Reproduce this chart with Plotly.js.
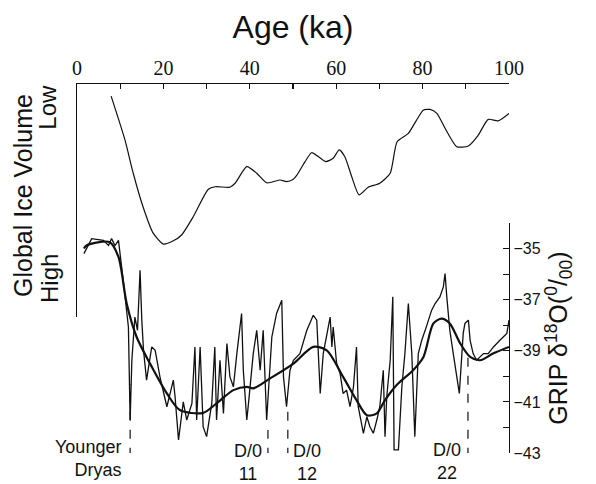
<!DOCTYPE html>
<html>
<head>
<meta charset="utf-8">
<script src="https://cdn.plot.ly/plotly-3.0.1.min.js"></script>
<style>html,body{margin:0;padding:0;background:#fff;}#chart{width:596px;height:484px;}</style>
</head>
<body>
<div id="chart"></div>
<script>
// Global ice volume (relative index: 100 = low ice, 0 = high ice)
const iceAge = [7.9, 11.1, 13.0, 15.3, 17.6, 20.0, 22.3, 24.2, 26.9, 30.4, 32.0, 35.4, 36.6, 39.3, 41.6, 43.9, 47.0, 48.5, 50.0, 50.9, 52.8, 54.3, 55.9, 57.6, 59.3, 60.7, 62.0, 63.6, 65.3, 67.4, 70.1, 72.5, 74.1, 76.7, 78.6, 80.2, 81.7, 83.3, 85.2, 87.9, 90.6, 92.9, 95.2, 97.5, 100.0];
const iceVol = [94.8, 76.0, 61.8, 47.2, 36.1, 31.3, 32.7, 35.2, 43.0, 54.8, 55.9, 55.7, 57.4, 64.5, 61.7, 57.6, 58.8, 58.1, 59.0, 60.9, 66.7, 70.5, 68.8, 66.7, 68.1, 71.7, 68.8, 60.2, 52.4, 55.7, 57.4, 61.7, 75.2, 78.8, 84.5, 88.8, 89.1, 87.4, 81.0, 73.1, 73.4, 78.1, 84.8, 84.2, 87.4];

// GRIP d18O raw record (per mil)
const gripAge = [1.6, 3.4, 6.1, 7.3, 8.0, 8.8, 9.6, 10.0, 10.7, 11.9, 12.3, 12.7, 13.4, 14.0, 14.6, 15.0, 15.4, 16.1, 17.3, 18.1, 19.2, 20.8, 22.3, 22.7, 23.5, 24.6, 25.4, 26.6, 27.3, 27.7, 28.5, 29.2, 30.0, 31.2, 31.9, 32.3, 33.1, 33.9, 34.7, 35.4, 36.2, 37.0, 38.1, 38.5, 39.3, 39.7, 40.8, 41.6, 42.4, 43.1, 43.9, 45.1, 46.2, 47.4, 47.8, 48.5, 49.3, 50.1, 51.6, 53.2, 54.7, 55.5, 55.9, 56.3, 57.0, 57.8, 58.6, 59.0, 59.3, 60.1, 60.9, 61.6, 62.4, 63.2, 64.0, 64.7, 65.1, 66.3, 67.1, 67.8, 68.6, 69.4, 70.1, 70.9, 71.3, 71.7, 72.5, 73.1, 73.4, 74.4, 75.2, 75.9, 76.7, 77.5, 78.2, 79.0, 79.8, 80.6, 81.3, 82.1, 82.9, 84.0, 84.8, 85.2, 85.6, 86.3, 87.1, 87.9, 88.5, 89.1, 89.4, 89.8, 90.6, 91.0, 91.7, 92.5, 93.3, 94.1, 95.2, 96.4, 97.9, 99.5, 100.0];
const gripD18O = [-35.20, -34.61, -34.68, -34.88, -34.61, -34.88, -34.68, -35.20, -36.24, -38.07, -41.71, -39.37, -37.68, -38.20, -35.85, -37.80, -38.98, -40.15, -38.85, -38.98, -40.02, -41.19, -40.15, -40.80, -42.49, -41.00, -41.71, -41.06, -38.85, -41.71, -38.85, -41.97, -42.36, -41.06, -38.85, -41.71, -39.37, -41.45, -38.72, -40.02, -40.41, -39.11, -37.54, -39.76, -41.71, -41.06, -39.11, -38.20, -39.76, -38.20, -41.71, -38.46, -37.54, -37.02, -40.02, -41.19, -39.76, -39.37, -39.11, -38.20, -37.61, -37.80, -39.11, -40.67, -39.11, -38.46, -37.68, -38.85, -38.07, -39.50, -39.89, -40.67, -40.54, -41.19, -40.41, -38.85, -41.19, -42.23, -41.58, -41.97, -42.23, -41.71, -41.19, -39.76, -42.36, -40.80, -39.37, -36.89, -42.88, -42.88, -40.41, -39.11, -37.15, -39.11, -42.36, -39.11, -38.59, -38.20, -37.80, -37.41, -37.15, -36.89, -36.50, -35.98, -36.89, -38.20, -39.11, -40.02, -40.67, -39.11, -38.32, -37.93, -37.80, -38.59, -39.11, -39.37, -39.24, -39.11, -39.11, -38.85, -38.59, -38.32, -37.80];

// GRIP smoothed curve
const smoothAge = [1.6, 2.2, 7.6, 9.6, 11.5, 13.8, 16.9, 20.8, 23.8, 29.2, 32.3, 36.2, 39.3, 40.8, 44.7, 50.1, 54.7, 57.8, 61.6, 64.7, 67.1, 69.4, 71.3, 74.0, 77.8, 80.2, 82.5, 84.4, 86.3, 88.7, 91.0, 93.3, 96.4, 100.0];
const smoothD18O = [-35.0, -34.88, -34.75, -35.33, -37.15, -38.46, -39.50, -40.67, -41.32, -41.43, -41.06, -40.54, -40.41, -40.47, -40.08, -39.50, -38.85, -38.98, -40.02, -40.93, -41.52, -41.45, -40.93, -40.34, -39.76, -39.24, -37.93, -37.74, -37.93, -38.71, -39.24, -39.37, -39.10, -38.85];

// Event markers (age, top of dashed line in per mil)
const eventNames = ["Younger<br>Dryas", "D/0<br>11", "D/0<br>12", "D/0<br>22"];
const eventAge = [12.3, 44.2, 48.8, 90.5];
const eventTop = [-40.3, -42.1, -41.2, -39.1];

const xTicks = [0, 20, 40, 60, 80, 100];

const sans = "Liberation Sans, Arial, sans-serif";
const traces = [
  {x: iceAge, y: iceVol, xaxis: 'x', yaxis: 'y', mode: 'lines', line: {color: '#111', width: 1.2, shape: 'spline', smoothing: 0.6}, cliponaxis: false, hoverinfo: 'skip'},
  {x: gripAge, y: gripD18O, xaxis: 'x', yaxis: 'y2', mode: 'lines', line: {color: '#111', width: 1.3}, hoverinfo: 'skip'},
  {x: smoothAge, y: smoothD18O, xaxis: 'x', yaxis: 'y2', mode: 'lines', line: {color: '#111', width: 2.2, shape: 'spline', smoothing: 0.8}, hoverinfo: 'skip'}
];

const shapes = eventAge.map((a, i) => ({
  type: 'line', xref: 'x', yref: 'y2', x0: a, x1: a, y0: -43.15, y1: eventTop[i],
  line: {color: '#111', width: 1.2, dash: 'dash'}
}));

const labelPos = [
  {x: 0.1065, y: -0.016, xanchor: 'right', align: 'right'},
  {x: 0.3958, y: -0.027, xanchor: 'center', align: 'center'},
  {x: 0.5324, y: -0.027, xanchor: 'center', align: 'center'},
  {x: 0.8576, y: -0.022, xanchor: 'center', align: 'center'}
];
const annotations = eventNames.map((t, i) => ({
  text: t, xref: 'paper', yref: 'paper', x: labelPos[i].x, y: labelPos[i].y,
  xanchor: labelPos[i].xanchor, yanchor: 'middle', align: labelPos[i].align,
  showarrow: false, font: {family: sans, size: 18, color: '#111'}
}));
annotations.push(
  {text: 'Global Ice Volume', xref: 'paper', yref: 'paper', x: -0.125, y: 0.6965, textangle: -90,
   xanchor: 'center', yanchor: 'middle', showarrow: false, font: {family: sans, size: 25, color: '#111'}},
  {text: 'Low', xref: 'paper', yref: 'paper', x: -0.067, y: 0.936, textangle: -90,
   xanchor: 'center', yanchor: 'middle', showarrow: false, font: {family: sans, size: 24, color: '#111'}},
  {text: 'High', xref: 'paper', yref: 'paper', x: -0.065, y: 0.474, textangle: -90,
   xanchor: 'center', yanchor: 'middle', showarrow: false, font: {family: sans, size: 24, color: '#111'}}
);

const layout = {
  width: 596, height: 484,
  margin: {l: 77, r: 87, t: 84, b: 31},
  paper_bgcolor: '#fff', plot_bgcolor: 'rgba(0,0,0,0)',
  showlegend: false,
  xaxis: {
    range: [0, 100], side: 'top', anchor: 'y',
    showline: true, linecolor: '#111', linewidth: 1.2,
    ticks: 'inside', ticklen: 5, tickwidth: 1.2, tickcolor: '#111',
    tickvals: xTicks, showgrid: false, zeroline: false,
    minor: {ticks: 'inside', ticklen: 5, tickwidth: 1.2, tickcolor: '#111', dtick: 10, tick0: 0, showgrid: false},
    tickfont: {family: 'Liberation Serif, Times New Roman, serif', size: 20, color: '#111'},
    title: {text: 'Age (ka)', font: {family: sans, size: 32, color: '#111'}, standoff: 8}
  },
  yaxis: {
    domain: [0.3686, 1], range: [0, 100],
    showline: true, linecolor: '#111', linewidth: 1.2,
    ticks: '', showticklabels: false, showgrid: false, zeroline: false
  },
  yaxis2: {
    domain: [0, 0.6233], range: [-43, -34], anchor: 'x', side: 'right',
    showline: true, linecolor: '#111', linewidth: 1.2,
    ticks: 'inside', ticklen: 6, tickwidth: 1.2, tickcolor: '#111',
    tick0: -43, dtick: 2, showgrid: false, zeroline: false,
    minor: {ticks: 'inside', ticklen: 6, tickwidth: 1.2, tickcolor: '#111', dtick: 1, tick0: -43, showgrid: false},
    tickfont: {family: sans, size: 16, color: '#111'},
    title: {text: 'GRIP δ<sup>18</sup>O(<sup>0</sup>/<sub>00</sub>)', font: {family: sans, size: 25, color: '#111'}, standoff: 6}
  },
  shapes: shapes,
  annotations: annotations
};

Plotly.newPlot('chart', traces, layout, {staticPlot: true, displayModeBar: false});
</script>
</body>
</html>
